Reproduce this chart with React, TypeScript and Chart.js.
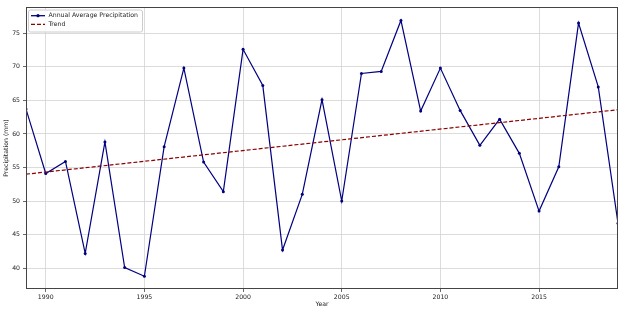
import React, { useEffect, useRef } from "react";
import { Chart, registerables } from "chart.js";

Chart.register(...registerables);

const years = [1989,1990,1991,1992,1993,1994,1995,1996,1997,1998,1999,2000,2001,2002,2003,2004,2005,2006,2007,2008,2009,2010,2011,2012,2013,2014,2015,2016,2017,2018,2019];
const precipitation = [63.7,54.1,55.9,42.2,58.8,40.1,38.8,58.1,69.8,55.8,51.4,72.6,67.2,42.7,51.0,65.1,50.0,69.0,69.3,76.9,63.4,69.8,63.5,58.3,62.2,57.1,48.5,55.1,76.5,67.0,46.7];
const trendYears = [1989, 2019];
const trendValues = [54.0, 63.6];
const xTicks = [1990, 1995, 2000, 2005, 2010, 2015];
const yTicks = [40, 45, 50, 55, 60, 65, 70, 75];
const seriesLabels = ["Annual Average Precipitation", "Trend"];

const FONT = "DejaVu Sans";
const FS = 6.2;

export default function App() {
  const ref = useRef<HTMLCanvasElement | null>(null);
  useEffect(() => {
    document.body.style.margin = "0";
    const canvas = ref.current!;
    const legendPlugin = {
      id: "mplFrame",
      afterDraw(chart: any) {
        const ctx = chart.ctx as CanvasRenderingContext2D;
        const a = chart.chartArea;
        ctx.save();
        ctx.strokeStyle = "#444";
        ctx.lineWidth = 1;
        ctx.strokeRect(a.left + 0.5, a.top + 0.5, a.right - a.left - 1, a.bottom - a.top - 1);
        // legend
        const lx = a.left + 2, ly = a.top + 2.5, lw = 114, lh = 22;
        ctx.fillStyle = "rgba(255,255,255,0.85)";
        ctx.strokeStyle = "#cccccc";
        ctx.beginPath();
        (ctx as any).roundRect(lx + 0.5, ly + 0.5, lw, lh, 2);
        ctx.fill();
        ctx.stroke();
        const r1 = ly + 6.2, r2 = ly + 14.8;
        ctx.strokeStyle = "#000080";
        ctx.lineWidth = 1.3;
        ctx.beginPath();
        ctx.moveTo(lx + 3, r1);
        ctx.lineTo(lx + 17, r1);
        ctx.stroke();
        ctx.fillStyle = "#000080";
        ctx.beginPath();
        ctx.arc(lx + 10, r1, 1.6, 0, Math.PI * 2);
        ctx.fill();
        ctx.strokeStyle = "#8B0000";
        ctx.setLineDash([4, 2]);
        ctx.beginPath();
        ctx.moveTo(lx + 3, r2);
        ctx.lineTo(lx + 17, r2);
        ctx.stroke();
        ctx.setLineDash([]);
        ctx.fillStyle = "#222";
        ctx.font = `${FS}px "${FONT}"`;
        ctx.textBaseline = "middle";
        ctx.textAlign = "left";
        ctx.fillText(seriesLabels[0], lx + 20.5, r1);
        ctx.fillText(seriesLabels[1], lx + 20.5, r2);
        ctx.restore();
      },
    };
    const chart = new Chart(canvas, {
      type: "line",
      data: {
        datasets: [
          {
            label: seriesLabels[0],
            data: years.map((y, i) => ({ x: y, y: precipitation[i] })),
            borderColor: "#000080",
            backgroundColor: "#000080",
            borderWidth: 1.2,
            pointRadius: 1.5,
            pointHoverRadius: 1.5,
            pointBorderWidth: 0,
            tension: 0,
            order: 2,
          },
          {
            label: seriesLabels[1],
            data: trendYears.map((y, i) => ({ x: y, y: trendValues[i] })),
            borderColor: "#8B0000",
            borderWidth: 1.2,
            borderDash: [4, 2],
            pointRadius: 0,
            tension: 0,
            order: 1,
          },
        ],
      },
      options: {
        responsive: false,
        animation: false,
        events: [],
        layout: { padding: { top: 7, right: 11, left: 0, bottom: 0 } },
        plugins: { legend: { display: false }, tooltip: { enabled: false } },
        scales: {
          x: {
            type: "linear",
            min: 1989,
            max: 2019,
            afterBuildTicks: (s: any) => { s.ticks = xTicks.map((v) => ({ value: v })); },
            afterFit: (s: any) => { s.height = 23; },
            ticks: { color: "#222", font: { family: FONT, size: FS }, padding: 2, maxRotation: 0, callback: (v: any) => String(v) },
            grid: { color: "#d3d3d3", lineWidth: 0.8, tickColor: "#444", tickLength: 3 },
            border: { display: false },
            title: { display: true, text: "Year", color: "#222", font: { family: FONT, size: FS }, padding: { top: 0, bottom: 4 } },
          },
          y: {
            type: "linear",
            min: 36.9,
            max: 78.9,
            afterBuildTicks: (s: any) => { s.ticks = yTicks.map((v) => ({ value: v })); },
            afterFit: (s: any) => { s.width = 26; },
            ticks: { color: "#222", font: { family: FONT, size: FS }, padding: 3 },
            grid: { color: "#d3d3d3", lineWidth: 0.8, tickColor: "#444", tickLength: 3 },
            border: { display: false },
            title: { display: true, text: "Precipitation (mm)", color: "#222", font: { family: FONT, size: FS }, padding: { top: 3, bottom: 0 } },
          },
        },
      },
      plugins: [legendPlugin],
    } as any);
    return () => chart.destroy();
  }, []);
  return <canvas ref={ref} width={629} height={312} style={{ display: "block" }} />;
}
